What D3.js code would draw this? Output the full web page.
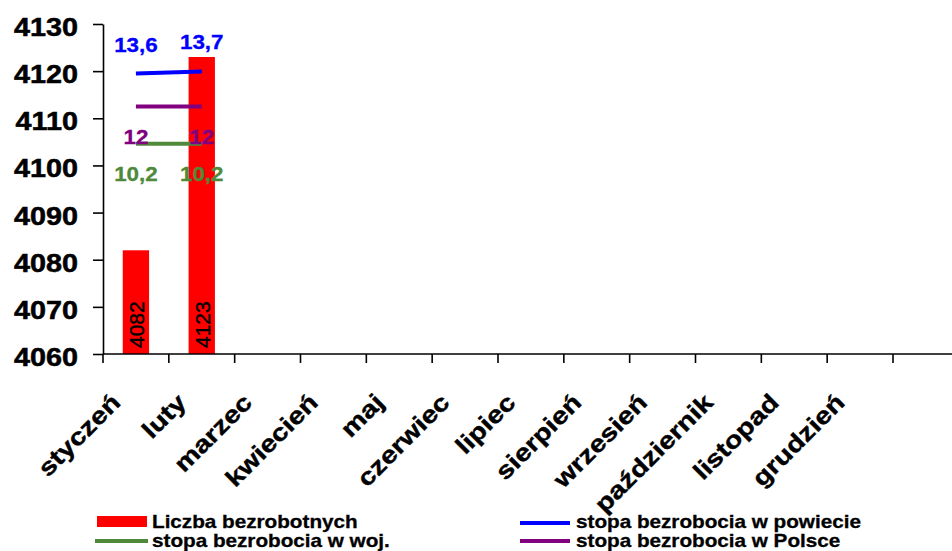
<!DOCTYPE html>
<html>
<head>
<meta charset="utf-8">
<script src="https://cdn.jsdelivr.net/npm/d3@7/dist/d3.min.js"></script>
<style>
  html, body { margin: 0; padding: 0; background: #fff; }
  svg { display: block; font-family: "Liberation Sans", Arial, sans-serif; }
</style>
</head>
<body>
<svg id="chart" width="952" height="551"></svg>
<script>
const months = ["styczeń","luty","marzec","kwiecień","maj","czerwiec","lipiec","sierpień","wrzesień","październik","listopad","grudzień"];
const barValues = [4082, 4123];
const rateCounty = [13.6, 13.7];
const rateVoivodeship = [10.2, 10.2];
const ratePoland = [12, 12];
const yTicks = [4060, 4070, 4080, 4090, 4100, 4110, 4120, 4130];
const legendItems = ["Liczba bezrobotnych", "stopa bezrobocia w powiecie", "stopa bezrobocia w woj.", "stopa bezrobocia w Polsce"];

const svg = d3.select("#chart");
const plotLeft = 103, plotRight = 893, plotTop = 24, plotBottom = 354;

const x = d3.scaleBand().domain(months).range([plotLeft, plotRight]).paddingInner(0).paddingOuter(0);
const y = d3.scaleLinear().domain([4060, 4130]).range([plotBottom, plotTop]);
const y2 = d3.scaleLinear().domain([0, 16]).range([plotBottom, plotTop]);
const bw = x.bandwidth();
const cx = d => x(d) + bw / 2;

// Y axis
const yAxis = svg.append("g").attr("transform", `translate(${plotLeft},0)`)
  .call(d3.axisLeft(y).tickValues(yTicks).tickSize(10).tickSizeOuter(0).tickFormat(d3.format("d")));
yAxis.select(".domain").attr("stroke", "#000").attr("stroke-width", 1.6);
yAxis.selectAll(".tick line").attr("stroke", "#000").attr("stroke-width", 1.6);
yAxis.selectAll(".tick text")
  .attr("x", 0).attr("dy", null)
  .attr("transform", `translate(-25,11.5) scale(1.15,1)`)
  .attr("font-size", 25).attr("font-weight", "bold").attr("fill", "#000")
  .attr("stroke", "#000").attr("stroke-width", 0.5)
  .attr("font-family", "Liberation Sans, Arial, sans-serif");

// Bars
svg.append("g").selectAll("rect").data(barValues).join("rect")
  .attr("x", (d, i) => cx(months[i]) - bw * 0.2)
  .attr("width", bw * 0.4)
  .attr("y", d => y(d))
  .attr("height", d => plotBottom - y(d))
  .attr("fill", "#ff0000");

// Bar value labels
svg.append("g").selectAll("text").data(barValues).join("text")
  .attr("transform", (d, i) => `translate(${cx(months[i]) + 8},${plotBottom - 6}) rotate(-90)`)
  .attr("font-size", 21).attr("fill", "#000").attr("stroke", "#000").attr("stroke-width", 0.4)
  .text(d => d);

// X axis
svg.append("line").attr("x1", plotLeft).attr("x2", 952).attr("y1", plotBottom).attr("y2", plotBottom)
  .attr("stroke", "#000").attr("stroke-width", 1.6);
const tickPos = months.map(m => x(m)).concat([x.range()[1]]);
svg.append("g").selectAll("line").data(tickPos).join("line")
  .attr("x1", d => d).attr("x2", d => d).attr("y1", plotBottom).attr("y2", plotBottom + 9)
  .attr("stroke", "#000").attr("stroke-width", 1.6);

svg.append("g").selectAll("text").data(months).join("text")
  .attr("transform", d => `translate(${cx(d) - 14},404) rotate(-45) scale(1.19,1)`)
  .attr("text-anchor", "end").attr("font-size", 24).attr("font-weight", "bold").attr("fill", "#000")
  .attr("stroke", "#000").attr("stroke-width", 0.4)
  .text(d => d);

// Lines
const series = [
  { values: rateCounty, color: "#0000ff", above: true },
  { values: ratePoland, color: "#800080", above: false },
  { values: rateVoivodeship, color: "#4f8a3b", above: false }
];
const lineGen = d3.line().x((d, i) => cx(months[i])).y(d => y2(d));
const fmt = v => String(v).replace(".", ",");
series.forEach(s => {
  svg.append("path").datum(s.values).attr("d", lineGen)
    .attr("fill", "none").attr("stroke", s.color).attr("stroke-width", 4);
});
series.forEach(s => {
  svg.append("g").selectAll("text").data(s.values).join("text")
    .attr("transform", (d, i) => `translate(${cx(months[i])},${y2(d) + (s.above ? -22 : 37)}) scale(1.12,1)`)
    .attr("text-anchor", "middle").attr("font-size", 20).attr("font-weight", "bold")
    .attr("fill", s.color).attr("stroke", s.color).attr("stroke-width", 0.3)
    .text(d => fmt(d));
});

// Legend
const lg = svg.append("g");
lg.append("rect").attr("x", 97).attr("y", 516).attr("width", 50).attr("height", 11).attr("fill", "#ff0000");
lg.append("line").attr("x1", 95).attr("x2", 148).attr("y1", 541).attr("y2", 541).attr("stroke", "#4f8a3b").attr("stroke-width", 4);
lg.append("line").attr("x1", 520).attr("x2", 570).attr("y1", 523).attr("y2", 523).attr("stroke", "#0000ff").attr("stroke-width", 4);
lg.append("line").attr("x1", 520).attr("x2", 570).attr("y1", 541).attr("y2", 541).attr("stroke", "#800080").attr("stroke-width", 4);
const legPos = [[152, 528], [576, 528], [152, 547], [576, 547]];
lg.selectAll("text").data(legendItems).join("text")
  .attr("transform", (d, i) => `translate(${legPos[i][0]},${legPos[i][1]}) scale(1.15,1)`)
  .attr("font-size", 18).attr("font-weight", "bold").attr("fill", "#000")
  .attr("stroke", "#000").attr("stroke-width", 0.3)
  .text(d => d);
</script>
</body>
</html>
